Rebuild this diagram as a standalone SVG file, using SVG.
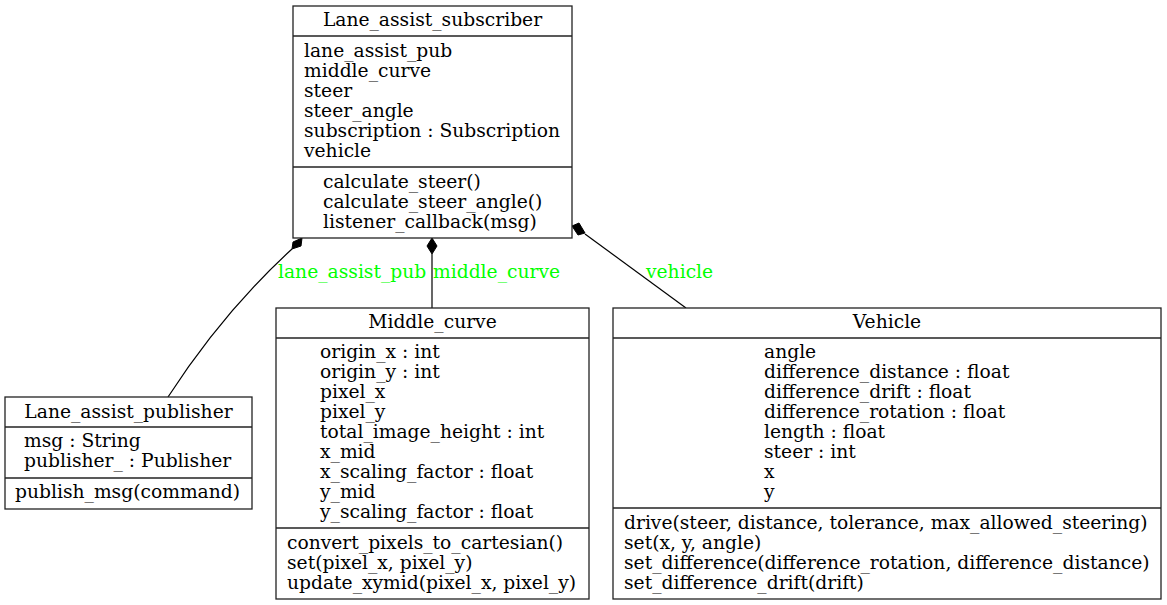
<svg xmlns="http://www.w3.org/2000/svg" width="1167" height="605" viewBox="0 0 1167 605">
<style>
text{font-family:"DejaVu Serif","Liberation Serif",serif;font-size:18.7px;fill:#000}
.t{text-anchor:middle}
.lbl{fill:#00ff00}
.box{fill:#fff;stroke:#222;stroke-width:1.3}
.sep{stroke:#222;stroke-width:1.3}
.edge{fill:none;stroke:#000;stroke-width:1.2}
.dia{fill:#000;stroke:#000;stroke-width:1}
</style>
<rect width="1167" height="605" fill="#fff"/>
<g id="connectors">
<path class="edge" d="M168,397 C205,340 245,292 292,249"/>
<polygon class="dia" points="302,238 301,246 292,249 293,242"/>
<line class="edge" x1="432" y1="308" x2="432" y2="254"/>
<polygon class="dia" points="432,238 437,246 432,254 427,246"/>
<line class="edge" x1="686" y1="308" x2="585" y2="234"/>
<polygon class="dia" points="572,226 579,223 585,233 578,235"/>
<text class="lbl" x="278" y="278">lane_assist_pub</text>
<text class="lbl" x="433" y="278">middle_curve</text>
<text class="lbl" x="646" y="278">vehicle</text>
</g>
<g id="Lane_assist_subscriber">
<rect class="box" x="293" y="6" width="279" height="232"/>
<line class="sep" x1="293" y1="36" x2="572" y2="36"/>
<line class="sep" x1="293" y1="167" x2="572" y2="167"/>
<text class="t" x="432.5" y="26">Lane_assist_subscriber</text>
<text x="304" y="57">lane_assist_pub</text>
<text x="304" y="77">middle_curve</text>
<text x="304" y="97">steer</text>
<text x="304" y="117">steer_angle</text>
<text x="304" y="137">subscription : Subscription</text>
<text x="304" y="157">vehicle</text>
<text x="323" y="188">calculate_steer()</text>
<text x="323" y="208">calculate_steer_angle()</text>
<text x="323" y="228">listener_callback(msg)</text>
</g>
<g id="Lane_assist_publisher">
<rect class="box" x="5" y="397" width="247" height="112"/>
<line class="sep" x1="5" y1="427" x2="252" y2="427"/>
<line class="sep" x1="5" y1="478" x2="252" y2="478"/>
<text class="t" x="128.5" y="418">Lane_assist_publisher</text>
<text x="24" y="447">msg : String</text>
<text x="24" y="467">publisher_ : Publisher</text>
<text x="15" y="498">publish_msg(command)</text>
</g>
<g id="Middle_curve">
<rect class="box" x="276" y="308" width="313" height="291"/>
<line class="sep" x1="276" y1="338" x2="589" y2="338"/>
<line class="sep" x1="276" y1="528" x2="589" y2="528"/>
<text class="t" x="432.5" y="328">Middle_curve</text>
<text x="320" y="358">origin_x : int</text>
<text x="320" y="378">origin_y : int</text>
<text x="320" y="398">pixel_x</text>
<text x="320" y="418">pixel_y</text>
<text x="320" y="438">total_image_height : int</text>
<text x="320" y="458">x_mid</text>
<text x="320" y="478">x_scaling_factor : float</text>
<text x="320" y="498">y_mid</text>
<text x="320" y="518">y_scaling_factor : float</text>
<text x="287" y="549">convert_pixels_to_cartesian()</text>
<text x="287" y="569">set(pixel_x, pixel_y)</text>
<text x="287" y="589">update_xymid(pixel_x, pixel_y)</text>
</g>
<g id="Vehicle">
<rect class="box" x="613" y="308" width="548" height="291"/>
<line class="sep" x1="613" y1="338" x2="1161" y2="338"/>
<line class="sep" x1="613" y1="508" x2="1161" y2="508"/>
<text class="t" x="887" y="328">Vehicle</text>
<text x="764" y="358">angle</text>
<text x="764" y="378">difference_distance : float</text>
<text x="764" y="398">difference_drift : float</text>
<text x="764" y="418">difference_rotation : float</text>
<text x="764" y="438">length : float</text>
<text x="764" y="458">steer : int</text>
<text x="764" y="478">x</text>
<text x="764" y="498">y</text>
<text x="624" y="529">drive(steer, distance, tolerance, max_allowed_steering)</text>
<text x="624" y="549">set(x, y, angle)</text>
<text x="624" y="569">set_difference(difference_rotation, difference_distance)</text>
<text x="624" y="589">set_difference_drift(drift)</text>
</g>
</svg>
